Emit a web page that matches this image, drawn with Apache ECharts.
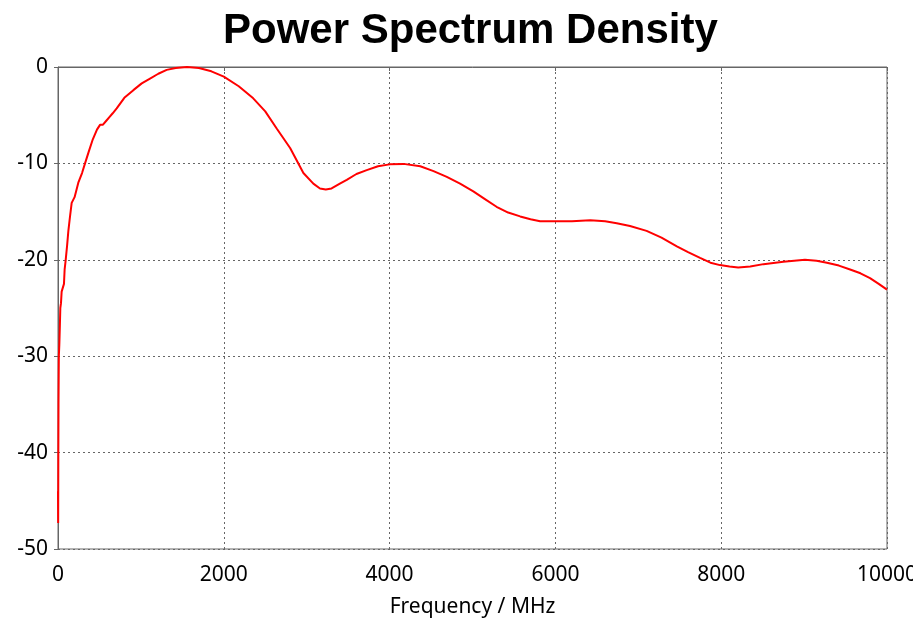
<!DOCTYPE html>
<html>
<head>
<meta charset="utf-8">
<script src="https://cdn.jsdelivr.net/npm/echarts@6/dist/echarts.min.js"></script>
<style>html,body{margin:0;padding:0;background:#fff}#c{width:913px;height:619px}</style>
</head>
<body>
<div id="c"></div>
<script>
const chartTitle = "Power Spectrum Density";
const xAxisName = "Frequency / MHz";
const freq = [0, 2, 4, 6, 10, 16, 22, 28, 36, 44, 56, 72, 80, 93, 110, 125, 145, 165, 200, 245, 290, 326, 370, 420, 470, 507, 540, 580, 620, 660, 708, 800, 909, 1010, 1110, 1210, 1311, 1420, 1556, 1700, 1850, 2000, 2180, 2355, 2500, 2640, 2800, 2960, 3080, 3160, 3230, 3300, 3400, 3483, 3600, 3724, 3860, 4000, 4168, 4370, 4530, 4690, 4850, 5010, 5150, 5290, 5430, 5575, 5700, 5815, 6000, 6200, 6420, 6600, 6740, 6900, 7100, 7280, 7465, 7600, 7745, 7870, 7985, 8100, 8205, 8350, 8510, 8750, 9010, 9150, 9275, 9420, 9555, 9680, 9795, 9900, 10000];
const psd = [-44, -47.3, -40, -35, -30, -28.8, -27, -25, -24.5, -23.3, -23.2, -22.5, -21, -20, -18.5, -17, -15.5, -14.1, -13.5, -12, -11, -10, -8.8, -7.5, -6.5, -6.0, -6.0, -5.6, -5.2, -4.8, -4.3, -3.2, -2.4, -1.7, -1.2, -0.7, -0.3, -0.1, 0, -0.1, -0.45, -1.0, -2.0, -3.25, -4.6, -6.4, -8.4, -11.0, -12.1, -12.6, -12.7, -12.6, -12.1, -11.7, -11.1, -10.7, -10.3, -10.1, -10.05, -10.3, -10.8, -11.4, -12.1, -12.9, -13.7, -14.5, -15.1, -15.5, -15.8, -16.0, -16.0, -16.0, -15.9, -16.0, -16.2, -16.5, -17.0, -17.7, -18.6, -19.2, -19.8, -20.3, -20.55, -20.7, -20.8, -20.7, -20.45, -20.2, -20.0, -20.1, -20.3, -20.6, -21.0, -21.4, -21.9, -22.5, -23.1];

const chart = echarts.init(document.getElementById('c'), null, {renderer: 'canvas'});
const labelFont = {fontFamily: 'Noto Sans', fontSize: 21, color: '#000'};
chart.setOption({
  animation: false,
  backgroundColor: '#fff',
  title: {
    text: chartTitle, left: 218, top: 5,
    textStyle: {fontFamily: 'Liberation Sans', fontWeight: 'bold', fontSize: 42, color: '#000'}
  },
  grid: {left: 58, right: 26, top: 67, bottom: 70, show: true, borderColor: '#666', borderWidth: 1,
         containLabel: false, outerBoundsMode: 'none'},
  xAxis: {
    type: 'value', min: 0, max: 10000, interval: 2000,
    name: xAxisName, nameLocation: 'middle', nameGap: 48,
    nameTextStyle: {fontFamily: 'Noto Sans', fontSize: 21, color: '#000'},
    axisLine: {lineStyle: {color: '#666', width: 1}},
    axisTick: {show: true, length: 4, lineStyle: {color: '#666'}},
    axisLabel: Object.assign({margin: 16, formatter: v => String(v)}, labelFont),
    splitLine: {show: true, lineStyle: {color: '#666', type: [2, 3], width: 1}}
  },
  yAxis: {
    type: 'value', min: -50, max: 0, interval: 10,
    axisLine: {show: true, lineStyle: {color: '#666', width: 1}},
    axisTick: {show: true, length: 4, lineStyle: {color: '#666'}},
    axisLabel: Object.assign({margin: 10, padding: [4, 0, 0, 0], formatter: v => String(v)}, labelFont),
    splitLine: {show: true, lineStyle: {color: '#666', type: [2, 3], width: 1}}
  },
  series: [{
    type: 'line',
    data: freq.map((f, i) => [f, psd[i]]),
    showSymbol: false, smooth: false,
    lineStyle: {color: '#ff0000', width: 2},
    clip: true
  }]
});
</script>
</body>
</html>
